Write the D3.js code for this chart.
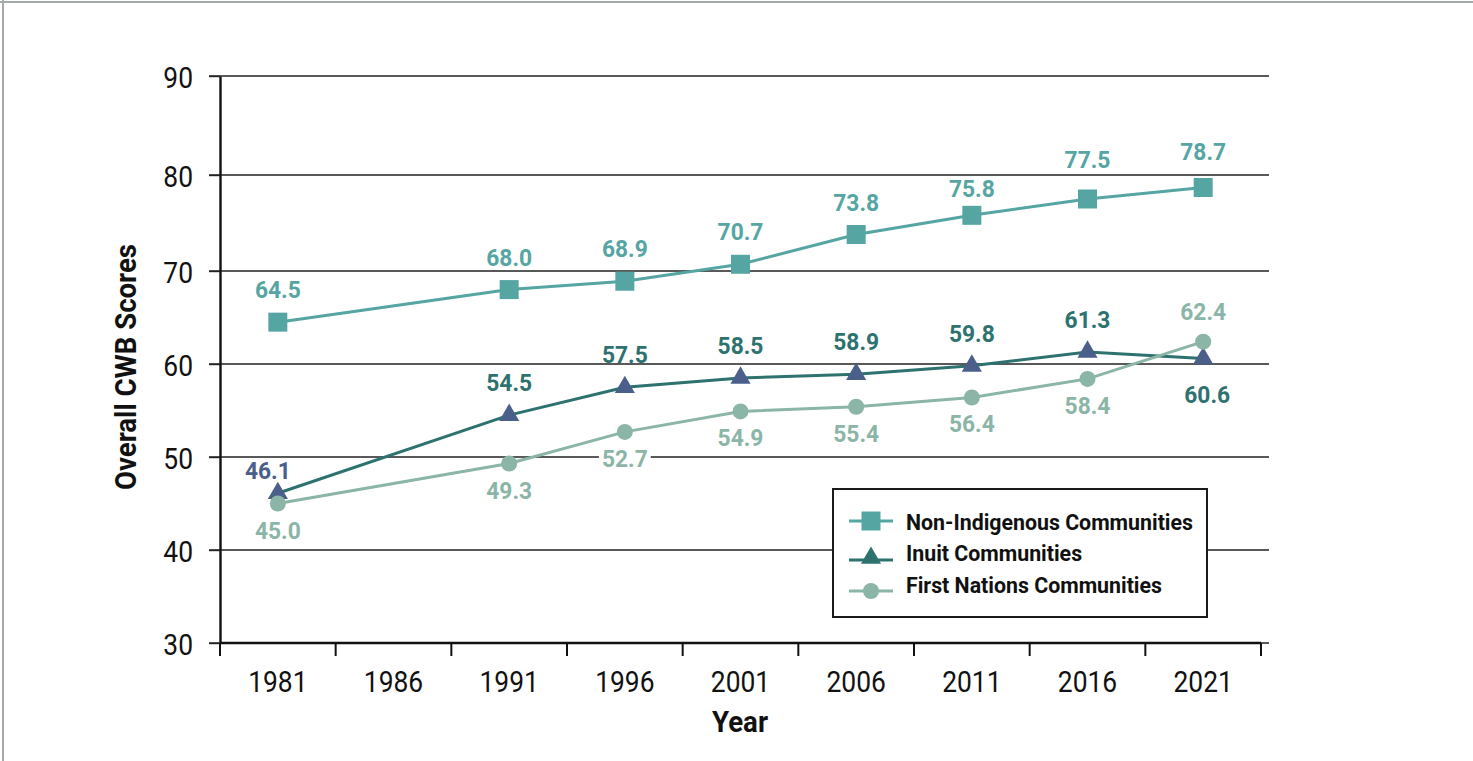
<!DOCTYPE html>
<html><head><meta charset="utf-8">
<script src="https://cdn.jsdelivr.net/npm/d3@7"></script>
<style>body{margin:0;background:#fff;} svg{display:block;}</style>
</head><body><svg id="chart" width="1473" height="761"></svg>
<script>
// ---------- DATA ----------
const years = ["1981","1986","1991","1996","2001","2006","2011","2016","2021"];
const nonIndigenous = [64.5, null, 68.0, 68.9, 70.7, 73.8, 75.8, 77.5, 78.7];
const inuit         = [46.1, null, 54.5, 57.5, 58.5, 58.9, 59.8, 61.3, 60.6];
const firstNations  = [45.0, null, 49.3, 52.7, 54.9, 55.4, 56.4, 58.4, 62.4];
const yTicks = [30, 40, 50, 60, 70, 80, 90];
const seriesNames = ["Non-Indigenous Communities", "Inuit Communities", "First Nations Communities"];
const nonIndigenousLabelSide = ["above", null, "above", "above", "above", "above", "above", "above", "above"];
const inuitLabelSide         = ["above", null, "above", "above", "above", "above", "above", "above", "below"];
const firstNationsLabelSide  = ["below", null, "below", "below", "below", "below", "below", "below", "above"];
const xTitle = "Year";
const yTitle = "Overall CWB Scores";

// ---------- STYLE ----------
const FONT = "Roboto, 'Liberation Sans', sans-serif";
const cNon = "#55a5a3", cInuit = "#2e7270", cInuitMark = "#4a5f8a", cFN = "#8bb5a6";
const svg = d3.select("#chart");

// frame
svg.append("line").attr("x1",0).attr("x2",1473).attr("y1",2).attr("y2",2).attr("stroke","#a3aaa8").attr("stroke-width",2);
svg.append("line").attr("x1",3).attr("x2",3).attr("y1",0).attr("y2",761).attr("stroke","#a3aaa8").attr("stroke-width",2);

// scales
const x = d3.scaleBand().domain(years).range([220, 1261]);
const y = d3.scaleLinear().domain(yTicks).range([643, 550, 457, 364, 271, 175, 76]);
const cx = d => x(d) + x.bandwidth() / 2;

function txt(g, px, py, str, o) {
  const t = g.append("text")
    .attr("transform", `translate(${px},${py})` + (o.rotate ? ` rotate(${o.rotate})` : "") + ` scale(${o.sx || 0.87},1)`)
    .attr("font-family", FONT)
    .attr("font-size", o.size)
    .attr("font-weight", o.weight || 400)
    .attr("fill", o.fill || "#111")
    .attr("text-anchor", o.anchor || "middle")
    .text(str);
  return t;
}

// gridlines
const grid = svg.append("g");
grid.selectAll("line").data(yTicks).join("line")
  .attr("x1", 209).attr("x2", 1269)
  .attr("y1", d => y(d)).attr("y2", d => y(d))
  .attr("stroke", "#222").attr("stroke-width", 1.4);

// y axis (line + labels)
const yAxis = svg.append("g").attr("transform", "translate(220,0)")
  .call(d3.axisLeft(y).tickValues(yTicks).tickSize(11).tickSizeOuter(0));
yAxis.select(".domain").attr("stroke", "#111").attr("stroke-width", 2.4);
yAxis.selectAll(".tick line").attr("stroke", "#222").attr("stroke-width", 1.4);
yAxis.selectAll(".tick text").remove();
yAxis.selectAll(".tick").each(function(d) {
  txt(d3.select(this), -27, 11, d, {size: 30, anchor: "end", sx: 0.88});
});

// x axis
const xAxisG = svg.append("g").attr("transform", "translate(0,643)");
xAxisG.append("line").attr("x1", x.range()[0]).attr("x2", x.range()[1])
  .attr("stroke", "#111").attr("stroke-width", 2.4);
const bounds = years.map(d => x(d)).concat([x.range()[1]]);
xAxisG.selectAll("line.tk").data(bounds).join("line").attr("class","tk")
  .attr("x1", d => d).attr("x2", d => d).attr("y1", 0).attr("y2", 13)
  .attr("stroke", "#111").attr("stroke-width", 2);
years.forEach(yr => txt(xAxisG, cx(yr), 49, yr, {size: 30, sx: 0.88}));

// axis titles
txt(svg, 740, 732, xTitle, {size: 30, weight: 700, sx: 0.92});
txt(svg, 136, 367, yTitle, {size: 30, weight: 700, rotate: -90, sx: 0.92});

// series
const series = [
  {name: seriesNames[0], values: nonIndigenous, sides: nonIndigenousLabelSide, line: cNon, mark: cNon, label: cNon, sym: d3.symbolSquare, size: 361},
  {name: seriesNames[1], values: inuit, sides: inuitLabelSide, line: cInuit, mark: cInuitMark, label: cInuit, legendMark: cInuit, sym: d3.symbolTriangle, size: 175},
  {name: seriesNames[2], values: firstNations, sides: firstNationsLabelSide, line: cFN, mark: cFN, label: cFN, sym: d3.symbolCircle, size: 201, labelBg: true}
];

const lineGen = d3.line().x(d => cx(d.year)).y(d => y(d.v));
series.forEach(s => {
  s.pts = years.map((yr, i) => ({year: yr, v: s.values[i], side: s.sides[i], i})).filter(p => p.v != null);
  svg.append("path").datum(s.pts).attr("d", lineGen)
    .attr("fill", "none").attr("stroke", s.line).attr("stroke-width", 3);
});
series.forEach(s => {
  svg.append("g").selectAll("path").data(s.pts).join("path")
    .attr("transform", d => `translate(${cx(d.year)},${y(d.v)})`)
    .attr("d", d3.symbol(s.sym, s.size)).attr("fill", s.mark);
});

// labels
const labelG = svg.append("g");
const LSX = 0.95;
// label nudges (series index, point index) -> baseline offset, to keep clear of gridlines
const labelNudge = {"0-6": -18, "0-7": -31, "0-8": -27, "1-0": -14, "1-8": 45, "2-8": -22};
series.forEach((s, si) => {
  s.pts.forEach(p => {
    let dy = p.side === "above" ? -24 : 35;
    const key = si + "-" + p.i;
    if (labelNudge[key] !== undefined) dy = labelNudge[key];
    let dx = 0;
    let fill = s.label;
    if (si === 1 && p.i === 0) { dx = -10; fill = cInuitMark; }
    if (si === 1 && p.side === "below") { dx = 4; }
    const g = labelG.append("g");
    const t = txt(g, cx(p.year) + dx, y(p.v) + dy, p.v.toFixed(1), {size: 24, weight: 700, fill: fill, sx: LSX});
    if (s.labelBg && p.side === "below") {
      const bb = t.node().getBBox();
      const w = bb.width * LSX;
      g.insert("rect", "text")
        .attr("x", cx(p.year) + dx - w / 2 - 3).attr("y", y(p.v) + dy - 19)
        .attr("width", w + 6).attr("height", 22).attr("fill", "#fff");
    }
  });
});

// legend
const lg = svg.append("g");
lg.append("rect").attr("x", 833).attr("y", 489).attr("width", 374).attr("height", 128)
  .attr("fill", "#fff").attr("stroke", "#1a1a1a").attr("stroke-width", 2);
const legendRows = [{line: 521, text: 530}, {line: 560, text: 561}, {line: 591, text: 593}];
series.forEach((s, i) => {
  const r = legendRows[i];
  lg.append("line").attr("x1", 849).attr("x2", 893).attr("y1", r.line).attr("y2", r.line)
    .attr("stroke", s.line).attr("stroke-width", 3);
  const my = i === 1 ? r.line - 2 : r.line;
  lg.append("path").attr("transform", `translate(871,${my})`)
    .attr("d", d3.symbol(s.sym, s.size)).attr("fill", s.legendMark || s.mark);
  txt(lg, 906, r.text, s.name, {size: 22, weight: 700, anchor: "start", sx: 0.97});
});
</script>
</body></html>
